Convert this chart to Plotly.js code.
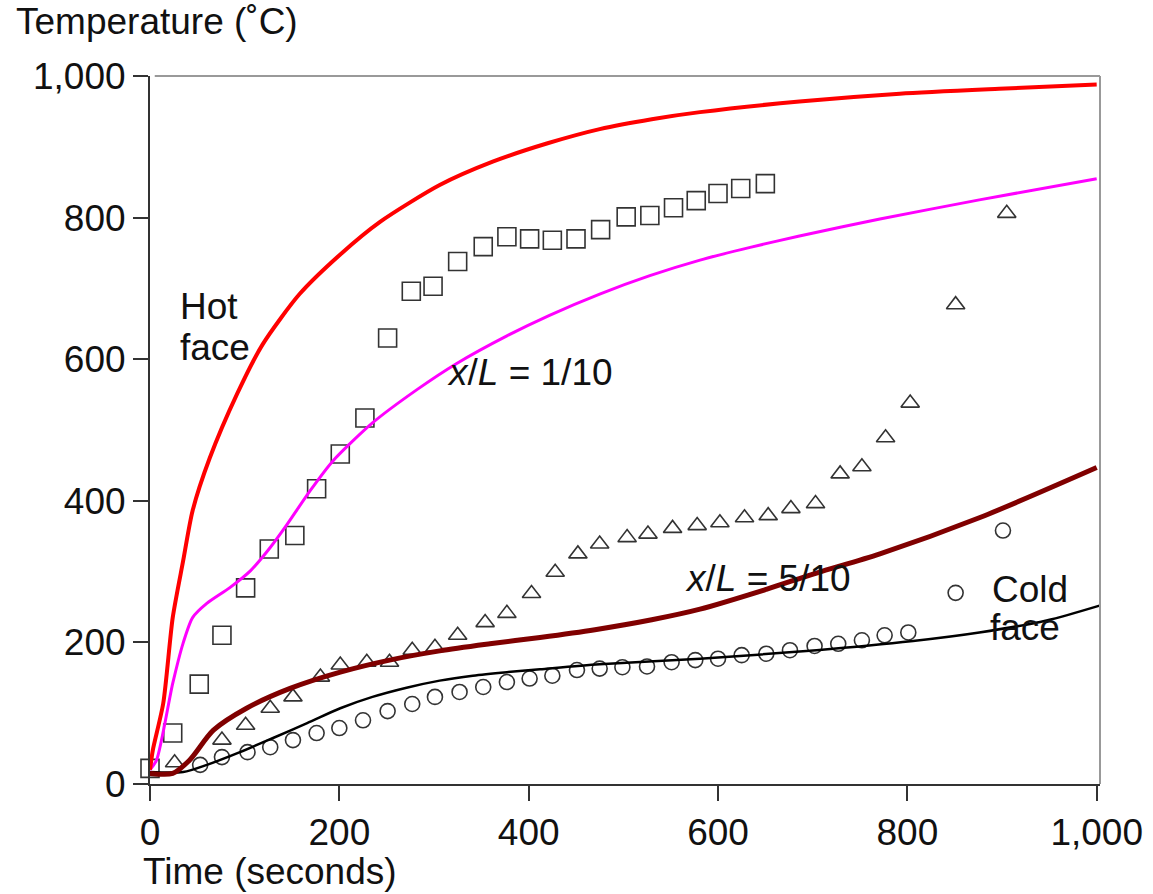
<!DOCTYPE html>
<html>
<head>
<meta charset="utf-8">
<script src="https://cdn.plot.ly/plotly-3.0.1.min.js"></script>
<style>html,body{margin:0;padding:0;background:#fff;}#chart{width:1153px;height:894px;}</style>
</head>
<body>
<div id="chart"></div>
<script>
// Model curves
const hotX = [0,3,14,24,35,45,63,92,119,158,201,243,306,362,420,475,530,581,686,792,897,1000];
const hotY = [20,48,114,235,315,386,460,551,621,692,748,794,846,879,905,925,939,949,964,975,982,988];

const magX = [0,7,24,35,45,60,84,106,127,145,169,193,235,282,324,377,422,475,528,581,634,686,771,876,1000];
const magY = [20,34,142,199,235,255,277,301,334,367,414,456,510,557,594,633,662,692,718,740,758,774,798,825,855];

const midX = [0,24,42,67,102,148,201,253,306,359,412,470,530,581,651,704,771,876,1000];
const midY = [15,15,34,76,107,135,158,175,188,198,207,218,232,247,275,298,325,376,447];

const coldX = [0,35,60,95,130,166,201,235,271,306,341,377,412,475,581,704,806,876,947,1003];
const coldY = [17,17,27,45,65,86,107,123,136,146,153,158,162,169,177,189,202,214,231,252];

// Measured points
const sqX = [0,24,52,76,101,126,153,176,201,227,251,276,299,325,352,377,401,425,450,476,503,528,553,577,600,624,650];
const sqY = [22,72,141,210,277,332,351,417,466,517,630,696,703,738,759,773,770,768,770,783,801,803,814,824,834,841,848];

const triX = [26,76,101,127,151,180,201,229,253,277,301,325,354,377,403,428,452,475,504,526,552,578,602,628,653,677,703,729,752,777,803,851,905];
const triY = [30,62,83,107,123,151,168,172,172,189,193,210,228,241,269,299,325,339,348,353,361,365,369,376,379,389,396,438,448,489,538,677,806];

const cirX = [53,76,103,127,151,176,200,225,251,277,301,327,352,377,401,425,451,475,499,525,551,576,600,625,651,676,702,727,752,776,801,851,901];
const cirY = [27,38,45,52,62,72,79,90,103,113,123,130,137,144,149,153,161,163,165,166,172,175,177,182,184,189,195,198,203,210,214,270,358];

const xTicks = [0,200,400,600,800,1000];
const yTicks = [0,200,400,600,800,1000];

const FONT = '"Liberation Sans", Arial, sans-serif';
const mk = (sym, size) => ({symbol: sym, size: size, color: '#333', line: {color: '#333', width: 1.6}});

const traces = [
  {x: sqX, y: sqY, mode: 'markers', marker: mk('square-open', 18), cliponaxis: false},
  {x: triX, y: triY, mode: 'markers', marker: mk('triangle-up-open', 16), cliponaxis: false},
  {x: cirX, y: cirY, mode: 'markers', marker: mk('circle-open', 15), cliponaxis: false},
  {x: coldX, y: coldY, mode: 'lines', line: {color: '#000', width: 2.5, shape: 'spline', smoothing: 0.8}},
  {x: midX, y: midY, mode: 'lines', line: {color: '#800000', width: 5, shape: 'spline', smoothing: 0.8}},
  {x: magX, y: magY, mode: 'lines', line: {color: '#ff00ff', width: 3, shape: 'spline', smoothing: 0.7}},
  {x: hotX, y: hotY, mode: 'lines', line: {color: '#ff0000', width: 4, shape: 'spline', smoothing: 0.7}}
];

const txt = (x, y, text) => ({x: x, y: y, xref: 'x', yref: 'y', text: text, showarrow: false,
  xanchor: 'left', yanchor: 'middle', font: {family: FONT, size: 37, color: '#111'}});

const layout = {
  width: 1153, height: 894,
  margin: {l: 150, r: 53, t: 76, b: 110},
  paper_bgcolor: '#fff', plot_bgcolor: '#fff',
  showlegend: false,
  font: {family: FONT, size: 37, color: '#111'},
  xaxis: {range: [0, 1003.5], showgrid: false, zeroline: false, showline: true, linecolor: '#333', linewidth: 2,
    ticks: 'outside', ticklen: 15, tickwidth: 2, tickcolor: '#333', tickvals: xTicks, tickformat: ',',
    tickfont: {family: FONT, size: 37, color: '#111'}},
  yaxis: {range: [0, 1000], showgrid: false, zeroline: false, showline: true, linecolor: '#333', linewidth: 2,
    ticks: 'outside', ticklen: 15, tickwidth: 2, tickcolor: '#333', tickvals: yTicks, tickformat: ',',
    tickfont: {family: FONT, size: 37, color: '#111'}},
  shapes: [
    {type: 'line', xref: 'paper', yref: 'paper', x0: 0.005, x1: 1, y0: 1, y1: 1, line: {color: '#999', width: 2}},
    {type: 'line', xref: 'paper', yref: 'paper', x0: 1, x1: 1, y0: 0, y1: 1, line: {color: '#999', width: 2}}
  ],
  annotations: [
    {xref: 'paper', yref: 'paper', x: -0.143, y: 1.0763, xanchor: 'left', yanchor: 'middle', showarrow: false,
      text: 'Temperature (˚C)', font: {family: FONT, size: 37, color: '#111'}},
    {xref: 'paper', yref: 'paper', x: -0.009, y: -0.123, xanchor: 'left', yanchor: 'middle', showarrow: false,
      text: 'Time (seconds)', font: {family: FONT, size: 37, color: '#111'}},
    txt(29.6, 674, 'Hot'),
    txt(29.6, 617, 'face'),
    txt(311.5, 581, '<i>x</i>/<i>L</i> = 1/10'),
    txt(563, 290.5, '<i>x</i>/<i>L</i> = 5/10'),
    txt(887, 275, 'Cold'),
    txt(885, 221, 'face')
  ]
};

Plotly.newPlot('chart', traces, layout, {staticPlot: true});
</script>
</body>
</html>
